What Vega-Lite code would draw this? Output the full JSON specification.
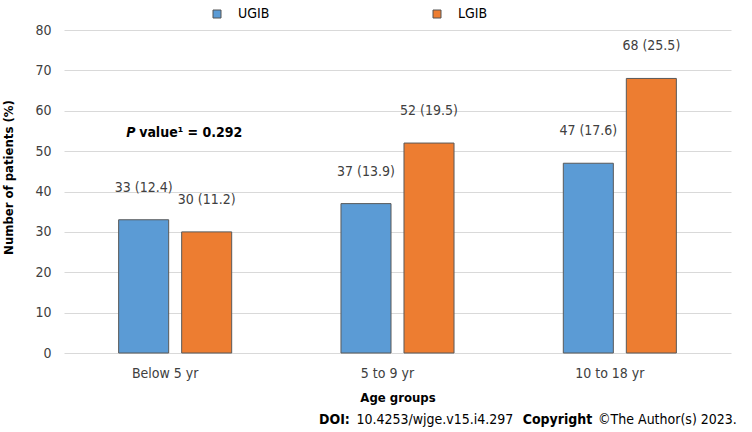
{
  "$schema": "https://vega.github.io/schema/vega-lite/v6.json",
  "width": 667,
  "height": 323,
  "autosize": "none",
  "padding": {"left": 64, "top": 30, "right": 21, "bottom": 79},
  "config": {
    "font": "DejaVu Sans Condensed, DejaVu Sans",
    "view": {"stroke": null},
    "axis": {"labelColor": "#404040", "titleColor": "#000000", "labelFont": "DejaVu Sans Condensed, DejaVu Sans", "titleFont": "DejaVu Sans Condensed, DejaVu Sans"},
    "legend": {"labelFont": "DejaVu Sans Condensed, DejaVu Sans"}
  },
  "datasets": {
    "bars": [
      {"group": "Below 5 yr", "type": "UGIB", "patients": 33, "label": "33 (12.4)"},
      {"group": "Below 5 yr", "type": "LGIB", "patients": 30, "label": "30 (11.2)"},
      {"group": "5 to 9 yr", "type": "UGIB", "patients": 37, "label": "37 (13.9)"},
      {"group": "5 to 9 yr", "type": "LGIB", "patients": 52, "label": "52 (19.5)"},
      {"group": "10 to 18 yr", "type": "UGIB", "patients": 47, "label": "47 (17.6)"},
      {"group": "10 to 18 yr", "type": "LGIB", "patients": 68, "label": "68 (25.5)"}
    ],
    "note": [{"group": "Below 5 yr", "y": 55}],
    "footer": [{"group": "5 to 9 yr", "y": 0}]
  },
  "layer": [
    {
      "data": {"name": "bars"},
      "mark": {"type": "bar", "stroke": "#595959", "strokeWidth": 1},
      "encoding": {
        "x": {
          "field": "group", "type": "nominal",
          "sort": ["Below 5 yr", "5 to 9 yr", "10 to 18 yr"],
          "scale": {"domain": ["Below 5 yr", "5 to 9 yr", "10 to 18 yr"], "paddingInner": 0, "paddingOuter": 0},
          "axis": {
            "title": "Age groups", "titleFontWeight": "bold", "titleFontSize": 13, "titlePadding": 11,
            "labelAngle": 0, "labelFontSize": 14, "labelPadding": 13, "labelOffset": -10,
            "ticks": false, "domain": false
          }
        },
        "xOffset": {
          "field": "type", "type": "nominal", "sort": ["UGIB", "LGIB"],
          "scale": {"domain": ["UGIB", "LGIB"], "paddingInner": 0.206, "paddingOuter": 0.867}
        },
        "y": {
          "field": "patients", "type": "quantitative",
          "scale": {"domain": [0, 80]},
          "axis": {
            "title": "Number of patients (%)", "titleFontWeight": "bold", "titleFontSize": 13, "titlePadding": 19, "titleY": 147,
            "values": [0, 10, 20, 30, 40, 50, 60, 70, 80],
            "labelFontSize": 14, "labelPadding": 13, "ticks": false, "domain": false,
            "grid": true, "gridColor": "#d9d9d9", "gridWidth": 1
          }
        },
        "color": {
          "field": "type", "type": "nominal",
          "scale": {"domain": ["UGIB", "LGIB"], "range": ["#5B9BD5", "#ED7D31"]},
          "legend": {
            "orient": "none", "legendX": 146, "legendY": -23, "direction": "horizontal",
            "title": null, "symbolType": "square", "symbolSize": 64, "labelFontSize": 14,
            "labelColor": "#000000", "columnPadding": 160, "labelOffset": 14, "padding": 0,
            "symbolStrokeColor": "#555555", "symbolStrokeWidth": 1, "symbolOpacity": 1
          }
        }
      }
    },
    {
      "data": {"name": "bars"},
      "mark": {"type": "text", "dy": -32, "fontSize": 14, "color": "#404040", "baseline": "middle"},
      "encoding": {
        "x": {"field": "group", "type": "nominal", "sort": ["Below 5 yr", "5 to 9 yr", "10 to 18 yr"]},
        "xOffset": {"field": "type", "type": "nominal", "sort": ["UGIB", "LGIB"]},
        "y": {"field": "patients", "type": "quantitative"},
        "text": {"field": "label"}
      }
    },
    {
      "data": {"name": "note"},
      "mark": {"type": "text", "align": "left", "baseline": "middle", "dx": -49, "dy": 2, "fontSize": 14, "fontWeight": "bold", "fontStyle": "italic", "color": "#000000"},
      "encoding": {
        "x": {"field": "group", "type": "nominal", "sort": ["Below 5 yr", "5 to 9 yr", "10 to 18 yr"]},
        "y": {"field": "y", "type": "quantitative"},
        "text": {"value": "P"}
      }
    },
    {
      "data": {"name": "note"},
      "mark": {"type": "text", "align": "left", "baseline": "middle", "dx": -36, "dy": 2, "fontSize": 14, "fontWeight": "bold", "color": "#000000"},
      "encoding": {
        "x": {"field": "group", "type": "nominal", "sort": ["Below 5 yr", "5 to 9 yr", "10 to 18 yr"]},
        "y": {"field": "y", "type": "quantitative"},
        "text": {"value": "value¹ = 0.292"}
      }
    },
    {
      "data": {"name": "footer"},
      "mark": {"type": "text", "align": "left", "baseline": "middle", "dx": -78.5, "dy": 67, "fontSize": 14, "fontWeight": "bold", "color": "#000000"},
      "encoding": {
        "x": {"field": "group", "type": "nominal", "sort": ["Below 5 yr", "5 to 9 yr", "10 to 18 yr"]},
        "y": {"field": "y", "type": "quantitative"},
        "text": {"value": "DOI:"}
      }
    },
    {
      "data": {"name": "footer"},
      "mark": {"type": "text", "align": "left", "baseline": "middle", "dx": -41, "dy": 67, "fontSize": 14, "color": "#000000"},
      "encoding": {
        "x": {"field": "group", "type": "nominal", "sort": ["Below 5 yr", "5 to 9 yr", "10 to 18 yr"]},
        "y": {"field": "y", "type": "quantitative"},
        "text": {"value": "10.4253/wjge.v15.i4.297"}
      }
    },
    {
      "data": {"name": "footer"},
      "mark": {"type": "text", "align": "left", "baseline": "middle", "dx": 125.2, "dy": 67, "fontSize": 14, "fontWeight": "bold", "color": "#000000"},
      "encoding": {
        "x": {"field": "group", "type": "nominal", "sort": ["Below 5 yr", "5 to 9 yr", "10 to 18 yr"]},
        "y": {"field": "y", "type": "quantitative"},
        "text": {"value": "Copyright"}
      }
    },
    {
      "data": {"name": "footer"},
      "mark": {"type": "text", "align": "left", "baseline": "middle", "dx": 200.5, "dy": 67, "fontSize": 14, "color": "#000000"},
      "encoding": {
        "x": {"field": "group", "type": "nominal", "sort": ["Below 5 yr", "5 to 9 yr", "10 to 18 yr"]},
        "y": {"field": "y", "type": "quantitative"},
        "text": {"value": "©The Author(s) 2023."}
      }
    }
  ]
}
